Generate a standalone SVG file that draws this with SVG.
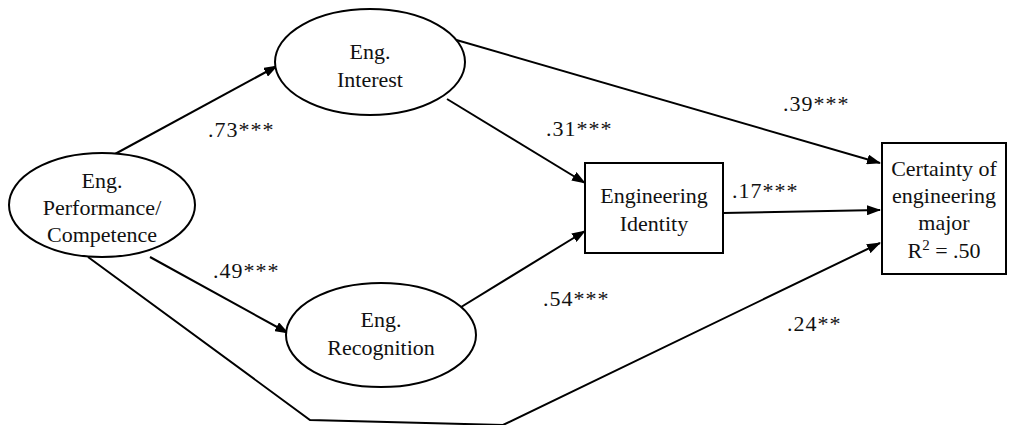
<svg xmlns="http://www.w3.org/2000/svg" width="1009" height="425" viewBox="0 0 1009 425">
<style>
.shape{fill:#fff;stroke:#000;stroke-width:2}
.lbl{font-family:"Times New Roman",Times,"Liberation Serif",serif;font-size:22px;fill:#111;text-anchor:middle}
.coef{font-family:"Times New Roman",Times,"Liberation Serif",serif;font-size:22px;fill:#111;letter-spacing:1px}
.conn{fill:none;stroke:#000;stroke-width:2}
</style>
<defs>
<marker id="arr" markerUnits="userSpaceOnUse" markerWidth="14" markerHeight="10" refX="13" refY="5" orient="auto">
<path d="M0,0 L14,5 L0,10 Z" fill="#000"/>
</marker>
</defs>
<rect width="1009" height="425" fill="#fff"/>
<g id="connectors">
<line class="conn" x1="115" y1="154" x2="277" y2="66" marker-end="url(#arr)"/>
<line class="conn" x1="150" y1="257" x2="288" y2="333" marker-end="url(#arr)"/>
<polyline class="conn" points="88,257 310,420 503,425 880,243" marker-end="url(#arr)"/>
<line class="conn" x1="453" y1="39" x2="880" y2="163" marker-end="url(#arr)"/>
<line class="conn" x1="447" y1="99" x2="585" y2="183" marker-end="url(#arr)"/>
<line class="conn" x1="453" y1="312" x2="585" y2="231" marker-end="url(#arr)"/>
<line class="conn" x1="723" y1="213" x2="880" y2="210" marker-end="url(#arr)"/>
</g>
<g id="performance">
<ellipse class="shape" cx="102" cy="205" rx="93" ry="52"/>
<text class="lbl" x="102" y="188">Eng.</text>
<text class="lbl" x="102" y="215">Performance/</text>
<text class="lbl" x="102" y="242">Competence</text>
</g>
<g id="interest">
<ellipse class="shape" cx="370" cy="62" rx="95" ry="53"/>
<text class="lbl" x="370" y="59">Eng.</text>
<text class="lbl" x="370" y="87">Interest</text>
</g>
<g id="recognition">
<ellipse class="shape" cx="381" cy="335" rx="95" ry="52"/>
<text class="lbl" x="381" y="327">Eng.</text>
<text class="lbl" x="381" y="355">Recognition</text>
</g>
<g id="identity">
<rect class="shape" x="585" y="163" width="138" height="90"/>
<text class="lbl" x="654" y="203">Engineering</text>
<text class="lbl" x="654" y="231">Identity</text>
</g>
<g id="certainty">
<rect class="shape" x="882" y="143" width="124" height="131"/>
<text class="lbl" x="944" y="176">Certainty of</text>
<text class="lbl" x="944" y="203">engineering</text>
<text class="lbl" x="944" y="230">major</text>
<text class="lbl" x="944" y="258">R<tspan font-size="15" dy="-8">2</tspan><tspan dy="8"> = .50</tspan></text>
</g>
<g id="coefficients">
<text class="coef" x="208" y="137">.73***</text>
<text class="coef" x="546" y="136">.31***</text>
<text class="coef" x="783" y="111">.39***</text>
<text class="coef" x="732" y="198">.17***</text>
<text class="coef" x="213" y="278">.49***</text>
<text class="coef" x="543" y="306">.54***</text>
<text class="coef" x="787" y="331">.24**</text>
</g>
</svg>
